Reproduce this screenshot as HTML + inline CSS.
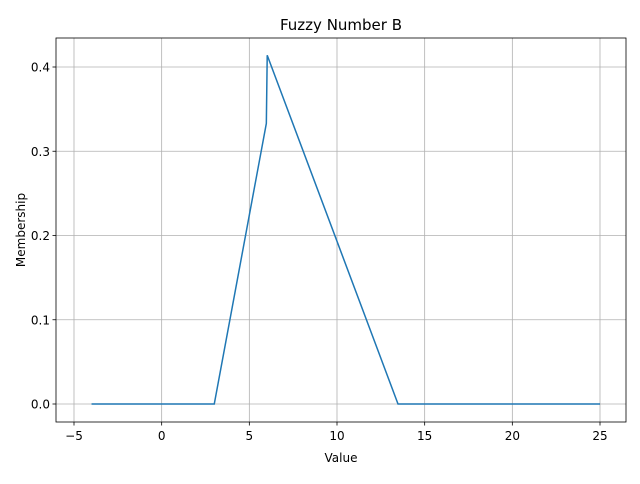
<!DOCTYPE html>
<html><head><meta charset="utf-8"><style>
body{margin:0;background:#fff;font-family:"DejaVu Sans","Liberation Sans",sans-serif}
</style></head><body>
<svg id="chart" width="640" height="480" xmlns="http://www.w3.org/2000/svg" font-family="DejaVu Sans, Liberation Sans, sans-serif"></svg>
<script>
const xs=[-4,3,5.97,6.02,13.48,25];
const ys=[0,0,0.333,0.414,0,0];
const xTicks=[-5,0,5,10,15,20,25];
const yTicks=[0.0,0.1,0.2,0.3,0.4];
const yTickLabels=["0.0","0.1","0.2","0.3","0.4"];
const svg=document.getElementById('chart');
const NS='http://www.w3.org/2000/svg';
const L=56,R=626,T=38,B=422;
function X(v){return 74+(v+5)*(526/30);}
function Y(v){return 404-v*842.5;}
function mk(tag,attrs,parent){const e=document.createElementNS(NS,tag);for(const k in attrs)e.setAttribute(k,attrs[k]);(parent||svg).appendChild(e);return e;}
const grid=mk('g',{});


xTicks.forEach(v=>{const x=X(v);
 mk('line',{x1:x,x2:x,y1:T,y2:B,stroke:'#b0b0b0','stroke-width':0.8},grid);
 mk('line',{x1:x,x2:x,y1:B,y2:B+3.5,stroke:'#000','stroke-width':0.8});
 const t=mk('text',{x:x,y:B+18,'font-size':12,'text-anchor':'middle'});t.textContent=String(v).replace('-','−');
 
 });
yTicks.forEach((v,i)=>{const y=Y(v);
 mk('line',{x1:L,x2:R,y1:y,y2:y,stroke:'#b0b0b0','stroke-width':0.8},grid);
 mk('line',{x1:L-3.5,x2:L,y1:y,y2:y,stroke:'#000','stroke-width':0.8});
 const t=mk('text',{x:L-6,y:y+4.5,'font-size':12,'text-anchor':'end'});t.textContent=yTickLabels[i];
 
 });
const line=mk('polyline',{points:xs.map((x,i)=>X(x)+','+Y(ys[i])).join(' '),fill:'none',stroke:'#1f77b4','stroke-width':1.5});


const fr=mk('rect',{x:L,y:T,width:R-L,height:B-T,fill:'none',stroke:'#000','stroke-width':0.8});


const ti=mk('text',{x:(L+R)/2,y:T-8,'font-size':15,'text-anchor':'middle'});ti.textContent='Fuzzy Number B';


const xl=mk('text',{x:(L+R)/2,y:462,'font-size':12,'text-anchor':'middle'});xl.textContent='Value';


const yl=mk('text',{x:25,y:(T+B)/2,'font-size':12,'text-anchor':'middle',transform:'rotate(-90 25 '+((T+B)/2)+')'});yl.textContent='Membership';


</script>
</body></html>
